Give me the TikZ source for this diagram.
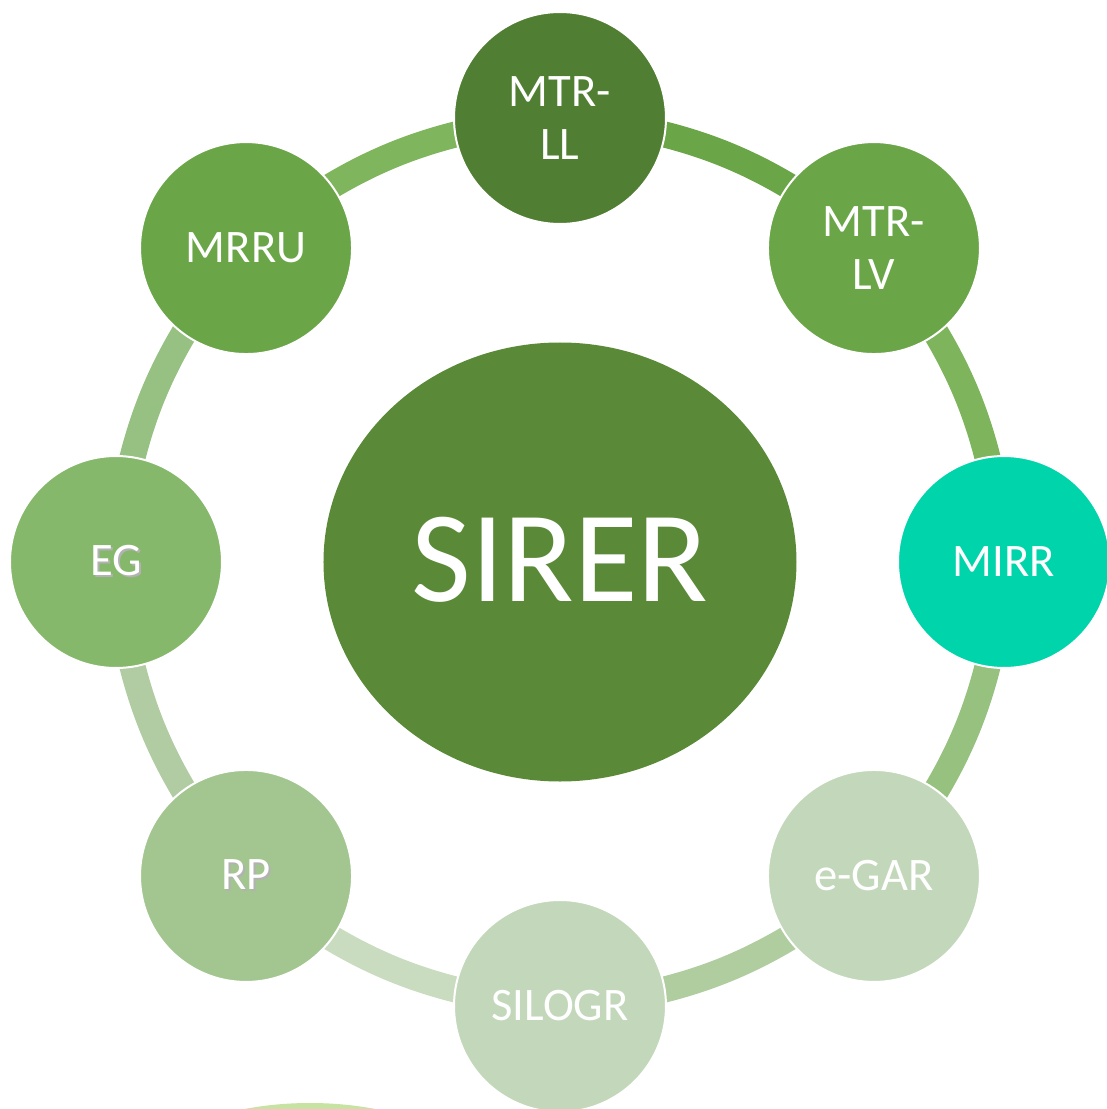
\documentclass[tikz,border=0pt]{standalone}
\usepackage{fontspec}
\setmainfont{Carlito}
\usepackage{tikz}
\usetikzlibrary{shapes.geometric}

\pgfdeclarelayer{back}
\pgfsetlayers{back,main}

\definecolor{hubgreen}{HTML}{5A8A37}
\definecolor{leafA}{HTML}{507E32}
\definecolor{leafB}{HTML}{6AA547}
\definecolor{leafC}{HTML}{00D4AA}
\definecolor{leafD}{HTML}{C3D8BB}
\definecolor{leafE}{HTML}{A3C690}
\definecolor{leafF}{HTML}{85B86A}
\definecolor{ringA}{HTML}{6AA547}
\definecolor{ringB}{HTML}{7EB55C}
\definecolor{ringC}{HTML}{96C17F}
\definecolor{ringD}{HTML}{B0CDA0}
\definecolor{ringE}{HTML}{C9DCC0}
\definecolor{ringF}{HTML}{B1CCA2}
\definecolor{ringG}{HTML}{97C182}
\definecolor{ringH}{HTML}{7FB55C}
\definecolor{sprout}{HTML}{C6E3A2}

% white label with a soft drop shadow
\newcommand{\shd}[1]{\makebox[0pt][l]{\hspace{1pt}\raisebox{-1pt}{\color{black!30}#1}}#1}

\begin{document}
\begin{tikzpicture}[x=0.5pt,y=0.5pt,
  main node/.style={circle,draw=white,line width=1pt,minimum size=106pt,inner sep=0pt,
    text=white,align=center,font=\fontsize{23.3}{26.5}\selectfont},
  hub node/.style={ellipse,minimum width=236.5pt,minimum height=219.5pt,inner sep=0pt,
    fill=hubgreen,text=white,font=\fontsize{65}{70}\selectfont},
  link/.style={line width=13pt,bend left=8.74,looseness=0.856,
    shorten <=-3pt,shorten >=-3pt}]

  \useasboundingbox (-560,-547) rectangle (547,562);

  \fill[sprout] (-250,-651) ellipse [x radius=200,y radius=110];

  \node[hub node] (0) at (0,0) {\raisebox{2.5pt}{SIRER}};
  \node[main node,fill=leafA] (1) at (90:444) {MTR-\\LL};
  \node[main node,fill=leafB] (2) at (45:444) {MTR-\\LV};
  \node[main node,fill=leafC] (3) at (0:444) {MIRR};
  \node[main node,fill=leafD] (4) at (-45:444) {e-GAR};
  \node[main node,fill=leafD] (5) at (-90:444) {SILOGR};
  \node[main node,fill=leafE] (6) at (-135:444) {\shd{RP}};
  \node[main node,fill=leafF] (7) at (180:444) {\shd{EG}};
  \node[main node,fill=leafB] (8) at (135:444) {MRRU};

  \begin{pgfonlayer}{back}
  \path (1.-9) edge[link,ringA] (2.144)
        (2.-54) edge[link,ringB] (3.99)
        (3.261) edge[link,ringC] (4.54)
        (4.216) edge[link,ringD] (5.9)
        (5.171) edge[link,ringE] (6.-36)
        (6.126) edge[link,ringF] (7.-81)
        (7.81) edge[link,ringG] (8.-126)
        (8.36) edge[link,ringH] (1.189);
  \end{pgfonlayer}
\end{tikzpicture}
\end{document}
